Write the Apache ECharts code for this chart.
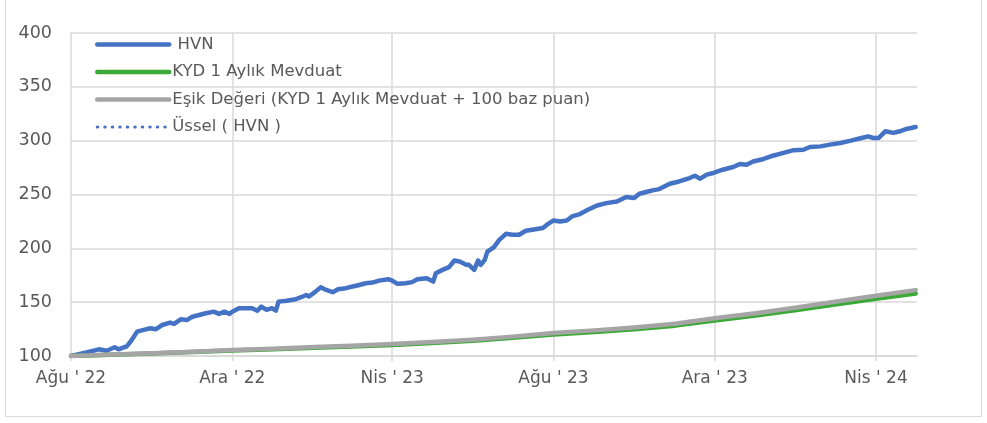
<!DOCTYPE html>
<html>
<head>
<meta charset="utf-8">
<script src="https://cdn.jsdelivr.net/npm/echarts@6/dist/echarts.min.js"></script>
<style>
html,body{margin:0;padding:0;background:#fff;}
#c{width:987px;height:423px;}
</style>
</head>
<body>
<div id="c"></div>
<script>
// ---- data ----
const seriesNames = ['HVN', 'KYD 1 Aylık Mevduat', 'Eşik Değeri (KYD 1 Aylık Mevduat + 100 baz puan)', 'Üssel ( HVN )'];

const hvnDates = [
 '2022-08-01','2022-08-15','2022-08-22','2022-08-28','2022-09-03','2022-09-06','2022-09-10','2022-09-12','2022-09-15','2022-09-20',
 '2022-09-25','2022-09-30','2022-10-04','2022-10-09','2022-10-15','2022-10-18','2022-10-23','2022-10-28','2022-10-31','2022-11-03',
 '2022-11-11','2022-11-17','2022-11-21','2022-11-25','2022-11-29','2022-12-01','2022-12-06','2022-12-16','2022-12-20','2022-12-23',
 '2022-12-27','2022-12-31','2023-01-03','2023-01-05','2023-01-11','2023-01-18','2023-01-22','2023-01-26','2023-01-28','2023-02-02',
 '2023-02-06','2023-02-10','2023-02-15','2023-02-19','2023-02-25','2023-03-02','2023-03-07','2023-03-12','2023-03-17','2023-03-22',
 '2023-03-29','2023-04-01','2023-04-05','2023-04-11','2023-04-16','2023-04-20','2023-04-27','2023-05-02','2023-05-04','2023-05-09',
 '2023-05-14','2023-05-18','2023-05-22','2023-05-27','2023-05-29','2023-06-02','2023-06-05','2023-06-07','2023-06-10','2023-06-12',
 '2023-06-17','2023-06-21','2023-06-26','2023-07-01','2023-07-06','2023-07-11','2023-07-16','2023-07-24','2023-07-28','2023-08-01',
 '2023-08-06','2023-08-11','2023-08-15','2023-08-21','2023-08-27','2023-09-03','2023-09-10','2023-09-18','2023-09-25','2023-10-01',
 '2023-10-05','2023-10-10','2023-10-15','2023-10-20','2023-10-28','2023-11-04','2023-11-12','2023-11-16','2023-11-20','2023-11-25',
 '2023-11-30','2023-12-07','2023-12-15','2023-12-20','2023-12-25','2023-12-30','2024-01-07','2024-01-14','2024-01-22','2024-01-29',
 '2024-02-06','2024-02-11','2024-02-19','2024-02-26','2024-03-05','2024-03-13','2024-03-21','2024-03-26','2024-03-30','2024-04-03',
 '2024-04-08','2024-04-14','2024-04-19','2024-04-24','2024-05-01'
];
const hvnValues = [
 100.0,104.0,106.2,104.9,108.1,106.2,108.1,108.7,113.3,122.6,
 124.2,125.8,124.8,128.8,131.0,129.8,134.1,133.5,136.0,137.2,
 139.7,141.2,139.1,141.2,139.1,141.2,144.4,144.4,142.1,145.9,
 142.8,144.4,142.1,150.5,151.4,152.7,154.6,156.7,155.2,159.8,
 163.9,161.4,159.3,162.0,163.0,164.5,166.0,167.6,168.2,170.0,
 171.3,170.0,167.0,167.6,168.6,171.3,172.3,169.1,176.9,180.0,
 182.5,188.7,187.7,184.7,184.7,180.0,188.7,184.7,189.3,197.0,
 201.1,207.9,213.5,212.6,212.6,216.3,217.2,218.8,222.8,225.9,
 225.0,225.9,229.6,231.8,235.8,239.8,242.0,243.5,247.6,246.7,
 250.7,252.3,253.8,255.0,260.0,262.1,265.3,267.4,264.7,268.4,
 270.0,273.0,275.5,278.3,277.7,280.7,283.0,286.0,288.6,291.0,
 291.6,294.1,294.7,296.3,297.9,300.0,302.5,304.0,302.5,302.5,
 308.7,307.2,308.7,310.9,312.7
];

const rateDates = [
 '2022-08-01','2022-09-01','2022-10-01','2022-11-01','2022-12-01','2023-01-01','2023-02-01','2023-03-01','2023-04-01','2023-05-01',
 '2023-06-01','2023-07-01','2023-08-01','2023-09-01','2023-10-01','2023-11-01','2023-12-01','2024-01-01','2024-02-01','2024-03-01',
 '2024-04-01','2024-05-01'
];
const kydValues = [
 100.0,101.2,102.4,103.7,105.1,106.3,107.7,108.9,110.3,112.1,
 114.2,116.9,120.0,122.4,124.9,128.2,133.0,137.6,142.6,147.7,
 153.1,158.0
];
const esikValues = [
 100.0,101.3,102.6,104.0,105.5,106.8,108.3,109.6,111.1,113.0,
 115.2,118.0,121.3,123.8,126.5,130.0,135.0,139.8,145.0,150.3,
 156.0,161.2
];

const xTickDates = ['2022-08-01','2022-12-01','2023-04-01','2023-08-01','2023-12-01','2024-04-01'];
const xMinDate = '2022-08-01';
const xMaxDate = '2024-05-02';
const monthNames = ['Oca','Şub','Mar','Nis','May','Haz','Tem','Ağu','Eyl','Eki','Kas','Ara'];
const yMin = 100, yMax = 400, yStep = 50;

// ---- helpers ----
function ts(s){ const p = s.split('-').map(Number); return new Date(p[0], p[1]-1, p[2]).getTime(); }
function pairs(dates, vals){ return dates.map((d,i)=>[ts(d), vals[i]]); }

const FONT = 'DejaVu Sans';
const TXT = '#595959';
const GRID = '#d9d9d9';
const DOTS = [0.5, 7];

const chart = echarts.init(document.getElementById('c'), null, {renderer:'canvas'});
chart.setOption({
  animation: false,
  backgroundColor: '#ffffff',
  graphic: [{
    type: 'rect', silent: true, z: -10,
    shape: {x: 5.5, y: -10, width: 976, height: 426.5},
    style: {fill: 'none', stroke: GRID, lineWidth: 1}
  }],
  grid: {left: 71, right: 70, top: 33, bottom: 67, outerBoundsMode: 'none', containLabel: false},
  legend: {
    orient: 'vertical',
    left: 95, top: 36,
    padding: 0,
    itemWidth: 72, itemHeight: 14, itemGap: 10.5,
    data: [
      {name: seriesNames[0], lineStyle: {width: 4.5, cap: 'round'}},
      {name: seriesNames[1], lineStyle: {width: 4.5, cap: 'round'}},
      {name: seriesNames[2], lineStyle: {width: 4.5, cap: 'round'}},
      {name: seriesNames[3], lineStyle: {width: 3, cap: 'round', type: DOTS}}
    ],
    formatter: n => n === 'HVN' ? ' HVN' : n,
    textStyle: {fontFamily: FONT, fontSize: 16.5, color: TXT, padding: [0,0,0,-2]},
    itemStyle: {opacity: 0, borderWidth: 0}
  },
  xAxis: {
    type: 'value',
    min: ts(xMinDate), max: ts(xMaxDate),
    axisLine: {show: true, lineStyle: {color: GRID, width: 1.5}},
    axisTick: {show: true, length: 5, lineStyle: {color: GRID, width: 1.5}, customValues: xTickDates.map(ts)},
    splitLine: {show: true, lineStyle: {color: GRID, width: 1.5}},
    axisLabel: {
      customValues: xTickDates.map(ts),
      margin: 14,
      fontFamily: FONT, fontSize: 17, color: TXT,
      formatter: v => { const d = new Date(v); return monthNames[d.getMonth()] + " ' " + String(d.getFullYear()).slice(2); }
    }
  },
  yAxis: {
    type: 'value',
    min: yMin, max: yMax, interval: yStep,
    axisLine: {show: false}, axisTick: {show: false},
    splitLine: {show: true, lineStyle: {color: GRID, width: 1.5}},
    axisLabel: {margin: 19, fontFamily: FONT, fontSize: 17.5, color: TXT}
  },
  series: [
    {name: seriesNames[0], type: 'line', symbol: 'none', showSymbol: false,
     data: pairs(hvnDates, hvnValues), color: '#4472C4',
     lineStyle: {width: 4.5, color: '#4472C4', cap: 'round', join: 'round'}},
    {name: seriesNames[1], type: 'line', symbol: 'none', showSymbol: false,
     data: pairs(rateDates, kydValues), color: '#3BA935',
     lineStyle: {width: 4.5, color: '#3BA935', cap: 'round', join: 'round'}},
    {name: seriesNames[2], type: 'line', symbol: 'none', showSymbol: false,
     data: pairs(rateDates, esikValues), color: '#A5A5A5',
     lineStyle: {width: 4.5, color: '#A5A5A5', cap: 'round', join: 'round'}},
    {name: seriesNames[3], type: 'line', symbol: 'none', showSymbol: false,
     data: [], color: '#4472C4',
     lineStyle: {width: 3, color: '#4472C4', type: DOTS, cap: 'round'}}
  ]
});
</script>
</body>
</html>
